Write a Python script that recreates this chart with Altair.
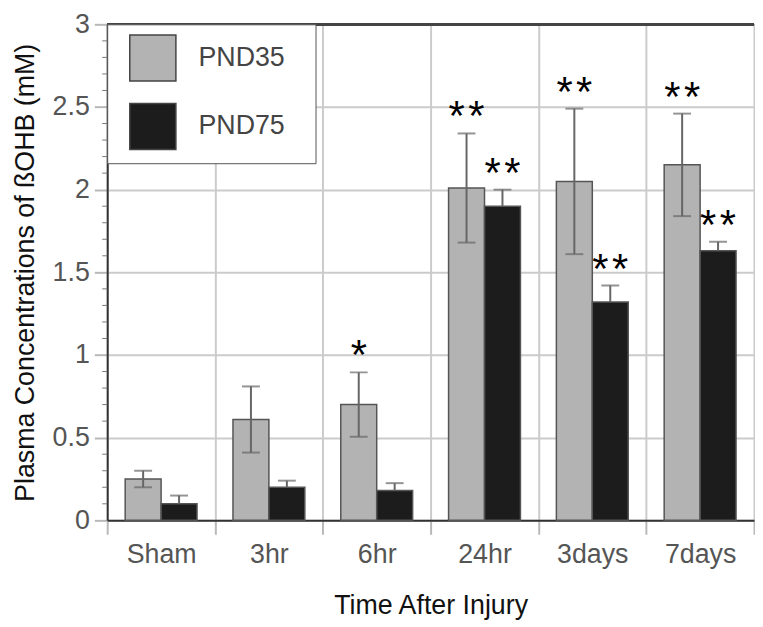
import altair as alt
import pandas as pd

groups = ["Sham", "3hr", "6hr", "24hr", "3days", "7days"]
ages = ["PND35", "PND75"]
pnd35 = [0.25, 0.61, 0.70, 2.01, 2.05, 2.15]
pnd35_err = [0.05, 0.20, 0.195, 0.33, 0.44, 0.31]
pnd75 = [0.10, 0.20, 0.18, 1.90, 1.32, 1.63]
pnd75_err = [0.05, 0.04, 0.045, 0.10, 0.10, 0.055]
sig35 = ["", "", "*", "**", "**", "**"]
sig75 = ["", "", "", "**", "**", "**"]
y_major = [0, 0.5, 1, 1.5, 2, 2.5, 3]
y_minor = [0.1, 0.2, 0.3, 0.4, 0.6, 0.7, 0.8, 0.9, 1.1, 1.2, 1.3, 1.4,
           1.6, 1.7, 1.8, 1.9, 2.1, 2.2, 2.3, 2.4, 2.6, 2.7, 2.8, 2.9]

rows = []
for i, g in enumerate(groups):
    rows.append(dict(time=g, age="PND35", value=pnd35[i],
                     lo=pnd35[i] - pnd35_err[i], hi=pnd35[i] + pnd35_err[i], sig=sig35[i]))
    rows.append(dict(time=g, age="PND75", value=pnd75[i],
                     lo=pnd75[i], hi=pnd75[i] + pnd75_err[i], sig=sig75[i]))
df = pd.DataFrame(rows)
minor_df = pd.DataFrame({"v": y_minor})

FONT = "Liberation Sans"
YTITLE = "Plasma Concentrations of ßOHB (mM)"

x_enc = alt.X("time:N", sort=groups,
              scale=alt.Scale(paddingInner=0, paddingOuter=0),
              axis=alt.Axis(title="Time After Injury", tickBand="extent", grid=True,
                            labelAngle=0, tickSize=14, labelPadding=7, titlePadding=26,
                            labelFont=FONT, labelFontSize=27, labelColor="#555",
                            titleFont=FONT, titleFontSize=27, titleColor="#111",
                            titleFontWeight="normal",
                            domainColor="#333", domainWidth=2))
xoff = alt.XOffset("age:N", sort=ages, scale=alt.Scale(paddingInner=0, paddingOuter=0.5))
yscale = alt.Scale(domain=[0, 3], nice=False)
yaxis = alt.Axis(title=YTITLE, values=y_major,
                 format="~g", grid=True, tickSize=13, labelPadding=5,
                 labelFont=FONT, labelFontSize=27, labelColor="#555",
                 titleFont=FONT, titleFontSize=27, titleColor="#111",
                 titleFontWeight="normal",
                 titlePadding=13, domainColor="#333", domainWidth=2)

def Y(field):
    return alt.Y(field, scale=yscale, axis=yaxis, title=YTITLE)

base = alt.Chart(df)

bars = base.mark_bar(stroke="#555", strokeWidth=1.5).encode(
    x=x_enc,
    xOffset=xoff,
    y=Y("value:Q"),
    color=alt.Color("age:N", sort=ages,
                    scale=alt.Scale(domain=ages, range=["#b3b3b3", "#1c1c1c"]),
                    legend=alt.Legend(title=None, orient="top-left", offset=0,
                                      fillColor="white", strokeColor="#555",
                                      padding=10, symbolType="square", symbolSize=2160,
                                      symbolOffset=12,
                                      symbolStrokeColor="#444", symbolStrokeWidth=1.5,
                                      labelFontSize=27, labelColor="#444", labelFont=FONT,
                                      labelOffset=22, rowPadding=15,
                                      labelExpr="datum.label + '\u2800'")),
)

err = base.mark_rule(color="#666", strokeWidth=2).encode(
    x=x_enc, xOffset=xoff, y=Y("lo:Q"), y2="hi:Q")

caps = base.mark_tick(color="#666", size=18, thickness=2).encode(
    x=x_enc, xOffset=xoff, y=Y("hi:Q"))

caps_lo = base.transform_filter(alt.datum.age == "PND35").mark_tick(
    color="#666", size=18, thickness=2).encode(
    x=x_enc, xOffset=xoff, y=Y("lo:Q"))

stars = base.transform_calculate(
    label="replace(datum.sig, '**', '*\u200a*')"
).mark_text(fontSize=42, baseline="alphabetic", dy=-3, font=FONT,
            color="black").encode(
    x=x_enc, xOffset=xoff, y=Y("hi:Q"), text="label:N")

minor = alt.Chart(minor_df).mark_rule(color="#777", strokeWidth=1).encode(
    y=Y("v:Q"), x=alt.value(-5), x2=alt.value(0))

top_line = alt.Chart(minor_df).mark_rule(color="#444", strokeWidth=2).encode(
    y=alt.datum(3))

chart = alt.layer(bars, err, caps, caps_lo, stars, minor, top_line).properties(
    width=652, height=500,
    padding={"left": 3, "top": 0, "right": 0, "bottom": 0},
).configure_view(stroke=None).configure_axis(
    gridColor="#cbcbcb", gridWidth=2, tickColor="#b8b8b8", tickWidth=2,
)

chart.save("out.html", embed_options={"renderer": "svg", "actions": False})
